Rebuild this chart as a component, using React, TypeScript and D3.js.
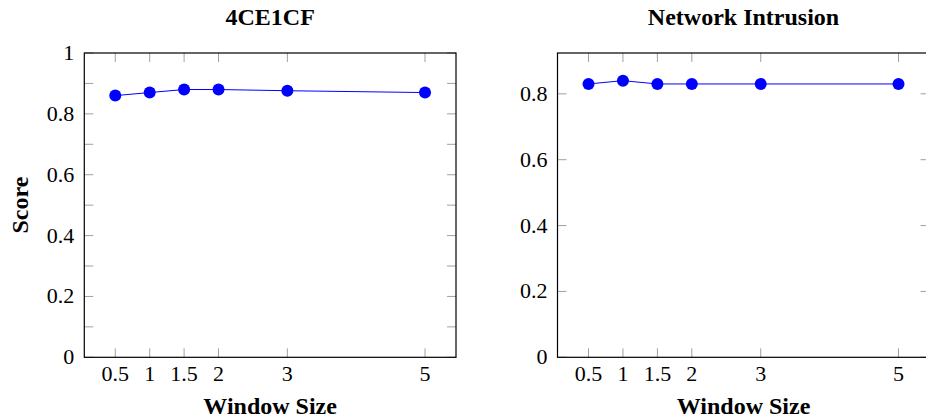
import React from "react";
import * as d3 from "d3";

const windowSizes = [0.5, 1, 1.5, 2, 3, 5];
const scores4CE1CF = [0.86, 0.87, 0.88, 0.88, 0.876, 0.87];
const scoresNetwork = [0.83, 0.84, 0.83, 0.83, 0.83, 0.83];
const xTickLabels = ["0.5", "1", "1.5", "2", "3", "5"];
const leftYTicks = [0, 0.1, 0.2, 0.3, 0.4, 0.5, 0.6, 0.7, 0.8, 0.9, 1];
const leftYLabels = [0, 0.2, 0.4, 0.6, 0.8, 1];
const rightYTicks = [0, 0.2, 0.4, 0.6, 0.8];
const rightYLabels = [0, 0.2, 0.4, 0.6, 0.8];

const W = 926;
const H = 420;
const TOP = 53;
const BOTTOM = 357.3;
const SERIF = "Liberation Serif, Times New Roman, serif";
const BLUE = "#0000ff";
const TICK_COLOR = "#a0a0a0";

type PanelProps = {
  title: string;
  values: number[];
  left: number;
  right: number;
  yMax: number;
  yTicks: number[];
  yLabels: number[];
  showYTitle: boolean;
};

function fmt(v: number) {
  if (v === 0) return "0";
  if (v === 1) return "1";
  return String(Math.round(v * 10) / 10);
}

function Panel({ title, values, left, right, yMax, yTicks, yLabels, showYTitle }: PanelProps) {
  const x = d3.scaleLinear().domain([0.05, 5.45]).range([left, right]);
  const y = d3.scaleLinear().domain([0, yMax]).range([BOTTOM, TOP]);
  const line = d3
    .line<number>()
    .x((_, i) => x(windowSizes[i]))
    .y((d) => y(d));
  const tl = 9;
  const cx = (left + right) / 2;
  return (
    <g>
      <text
        x={cx}
        y={25}
        textAnchor="middle"
        style={{ fontFamily: SERIF, fontWeight: "bold", fontSize: "24px" }}
        fill="#000"
      >
        {title}
      </text>
      {windowSizes.map((v, i) => (
        <g key={"xt" + i}>
          <line x1={x(v)} x2={x(v)} y1={BOTTOM} y2={BOTTOM - tl} stroke={TICK_COLOR} strokeWidth={1} />
          <line x1={x(v)} x2={x(v)} y1={TOP} y2={TOP + tl} stroke={TICK_COLOR} strokeWidth={1} />
          <text
            x={x(v)}
            y={381}
            textAnchor="middle"
            style={{ fontFamily: SERIF, fontSize: "22px" }}
            fill="#000"
          >
            {xTickLabels[i]}
          </text>
        </g>
      ))}
      {yTicks.map((v, i) => (
        <g key={"yt" + i}>
          <line x1={left} x2={left + tl} y1={y(v)} y2={y(v)} stroke={TICK_COLOR} strokeWidth={1} />
          <line x1={right} x2={right - tl} y1={y(v)} y2={y(v)} stroke={TICK_COLOR} strokeWidth={1} />
        </g>
      ))}
      {yLabels.map((v, i) => (
        <text
          key={"yl" + i}
          x={left - 10}
          y={y(v) + 7}
          textAnchor="end"
          style={{ fontFamily: SERIF, fontSize: "22px" }}
          fill="#000"
        >
          {fmt(v)}
        </text>
      ))}
      <rect
        x={left}
        y={TOP}
        width={right - left}
        height={BOTTOM - TOP}
        fill="none"
        stroke="#000"
        strokeWidth={1.2}
      />
      <path d={line(values) || ""} fill="none" stroke={BLUE} strokeWidth={1} />
      {values.map((v, i) => (
        <circle key={"pt" + i} cx={x(windowSizes[i])} cy={y(v)} r={6} fill={BLUE} />
      ))}
      <text
        x={cx}
        y={414}
        textAnchor="middle"
        style={{ fontFamily: SERIF, fontWeight: "bold", fontSize: "24px" }}
        fill="#000"
      >
        Window Size
      </text>
      {showYTitle && (
        <text
          transform={`translate(28, ${(TOP + BOTTOM) / 2}) rotate(-90)`}
          textAnchor="middle"
          style={{ fontFamily: SERIF, fontWeight: "bold", fontSize: "24px" }}
          fill="#000"
        >
          Score
        </text>
      )}
    </g>
  );
}

export default function App() {
  return (
    <svg
      width={W}
      height={H}
      viewBox={`0 0 ${W} ${H}`}
      style={{ position: "absolute", left: 0, top: 0, overflow: "hidden", background: "#fff" }}
    >
      <rect x={0} y={0} width={W} height={H} fill="#fff" />
      <Panel
        title="4CE1CF"
        values={scores4CE1CF}
        left={84.3}
        right={456}
        yMax={1}
        yTicks={leftYTicks}
        yLabels={leftYLabels}
        showYTitle={true}
      />
      <Panel
        title="Network Intrusion"
        values={scoresNetwork}
        left={557.5}
        right={929.5}
        yMax={0.924}
        yTicks={rightYTicks}
        yLabels={rightYLabels}
        showYTitle={false}
      />
    </svg>
  );
}
